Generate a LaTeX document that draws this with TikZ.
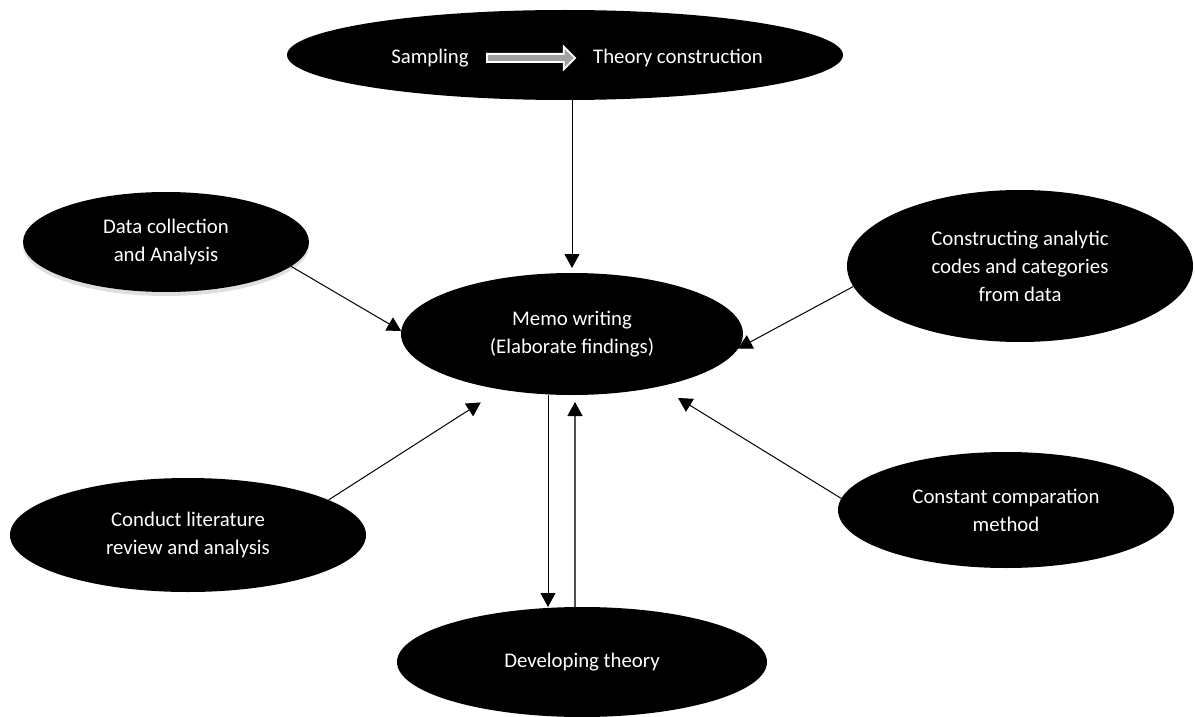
\documentclass[tikz,border=0pt]{standalone}
\usepackage{fontspec}
\setmainfont{Carlito}
\usepackage{tikz}
\usetikzlibrary{shapes.geometric,shapes.arrows,arrows.meta,shadows}
\definecolor{flowgray}{RGB}{160,160,160}
\definecolor{linkgray}{RGB}{80,80,80}

\begin{document}
\begin{tikzpicture}[x=0.5pt,y=-0.5pt,
    bubble/.style={ellipse,fill=black,text=white,inner sep=0pt,outer sep=0pt,
        align=center,font=\fontsize{10.4}{14}\selectfont},
    link/.style={-{Triangle[length=7pt,width=7.5pt,color=black]},line width=0.5pt}]
    \useasboundingbox (0,0) rectangle (1195,717);

    % Top bubble
    \node[bubble,minimum width=278pt,minimum height=45pt] (top) at (565,55) {};
    \node[text=white,font=\fontsize{10.4}{14}\selectfont] (sampl) at (430,58) {Sampling};
    \node[text=white,font=\fontsize{10.4}{14}\selectfont] (theory) at (678,58) {Theory construction};
    \node[single arrow,draw=white,fill=flowgray,line width=0.9pt,inner xsep=0pt,inner ysep=1.6pt,
        minimum height=44pt,single arrow head extend=3.6pt] (flow) at (529,58) {};

    % Outer bubbles
    \node[bubble,minimum width=143pt,minimum height=50pt,
        drop shadow={shadow xshift=0pt,shadow yshift=-2pt,opacity=0.25}] (data) at (166,242)
        {Data collection\\and Analysis};
    \node[bubble,minimum width=173pt,minimum height=76pt] (constr) at (1020,266)
        {Constructing analytic\\codes and categories\\from data};
    \node[bubble,minimum width=178pt,minimum height=57pt] (conduct) at (188,535)
        {Conduct literature\\review and analysis};
    \node[bubble,minimum width=168pt,minimum height=58pt] (constant) at (1006,510)
        {Constant comparation\\method};

    % Centre and bottom
    \node[bubble,minimum width=171pt,minimum height=61pt] (memo) at (572,334)
        {Memo writing\\(Elaborate findings)};
    \node[bubble,minimum width=185pt,minimum height=55pt] (dev) at (582,662)
        {Developing theory};

    % Links
    \draw[link,shorten >=2.5pt] (top.south -| memo.north) -- (memo.north);
    \draw[link] (data.-11) -- (memo.179);
    \draw[link] (constr.-173) -- (memo.-5);
    \draw[link,shorten >=12pt] (conduct.14) -- (memo.-142);
    \draw[link,shorten >=11pt] (constant.176) -- (memo.-31);
    \draw[link] ([xshift=-12pt]memo.south) -- ([xshift=-17pt]dev.north);
    \draw[link,draw=linkgray,line width=0.7pt,shorten >=3.5pt] ([xshift=-3.5pt]dev.north) -- ([xshift=1.5pt]memo.south);
\end{tikzpicture}
\end{document}
